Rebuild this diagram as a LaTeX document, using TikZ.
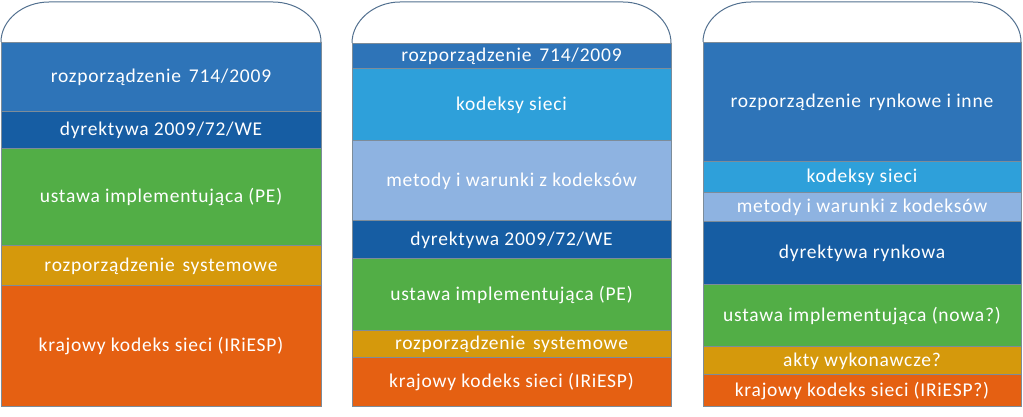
\documentclass[tikz,border=0pt]{standalone}
\usepackage{fontspec}
\setmainfont[LetterSpace=4]{Carlito}
\usetikzlibrary{positioning}
\definecolor{rozpblue}{HTML}{2E74B8}
\definecolor{dyrblue}{HTML}{165DA3}
\definecolor{kodblue}{HTML}{2EA0DA}
\definecolor{metblue}{HTML}{8EB3E1}
\definecolor{ustgreen}{HTML}{52AE46}
\definecolor{rozpgold}{HTML}{D5990C}
\definecolor{krajorange}{HTML}{E56012}
\definecolor{capgray}{HTML}{52708F}
\definecolor{edgegray}{HTML}{7D8C99}
\newcommand{\wsp}{\hskip 0.4em}
\tikzset{band/.style={rectangle,draw=edgegray,line width=0.5pt,text=white,
    font=\fontsize{19.5}{22}\selectfont,inner sep=0pt,outer sep=0pt,
    text height=1.26em,text depth=0pt,minimum height=#1,anchor=north},
  capline/.style={draw=capgray,line width=1pt}}
\begin{document}
\begin{tikzpicture}[x=1pt,y=-1pt,node distance=0pt]
\useasboundingbox (0,0) rectangle (1023,417);
% kolumna 1
\begin{scope}[every node/.append style={minimum width=320pt}]
\node[band=69pt,fill=rozpblue] (a1) at (161,42) {rozporządzenie\wsp 714/2009};
\node[band=37pt,fill=dyrblue,below=of a1] (a2) {dyrektywa 2009/72/WE};
\node[band=97pt,fill=ustgreen,below=of a2] (a3) {ustawa implementująca (PE)};
\node[band=40pt,fill=rozpgold,below=of a3] (a4) {rozporządzenie\wsp systemowe};
\node[band=121pt,fill=krajorange,below=of a4] (a5) {krajowy kodeks sieci (IRiESP)};
\end{scope}
\draw[capline] (a1.north west) .. controls +(0,-22) and +(-26,0) .. ([xshift=48pt,yshift=40pt]a1.north west)
  -- ([xshift=-48pt,yshift=40pt]a1.north east) .. controls +(26,0) and +(0,-22) .. (a1.north east);
% kolumna 2
\begin{scope}[every node/.append style={minimum width=319pt}]
\node[band=25pt,fill=rozpblue] (b1) at (511.5,43) {rozporządzenie\wsp 714/2009};
\node[band=72pt,fill=kodblue,below=of b1] (b2) {kodeksy sieci};
\node[band=80pt,fill=metblue,below=of b2] (b3) {metody i warunki z kodeksów};
\node[band=38pt,fill=dyrblue,below=of b3] (b4) {dyrektywa 2009/72/WE};
\node[band=72pt,fill=ustgreen,below=of b4] (b5) {ustawa implementująca (PE)};
\node[band=27pt,fill=rozpgold,below=of b5] (b6) {rozporządzenie\wsp systemowe};
\node[band=49pt,fill=krajorange,below=of b6] (b7) {krajowy kodeks sieci (IRiESP)};
\end{scope}
\draw[capline] (b1.north west) .. controls +(0,-22) and +(-26,0) .. ([xshift=48pt,yshift=41pt]b1.north west)
  -- ([xshift=-48pt,yshift=41pt]b1.north east) .. controls +(26,0) and +(0,-22) .. (b1.north east);
% kolumna 3
\begin{scope}[every node/.append style={minimum width=318pt}]
\node[band=119pt,fill=rozpblue] (c1) at (862,42) {rozporządzenie\wsp rynkowe i inne};
\node[band=31pt,fill=kodblue,below=of c1] (c2) {kodeksy sieci};
\node[band=29pt,fill=metblue,below=of c2] (c3) {metody i warunki z kodeksów};
\node[band=63pt,fill=dyrblue,below=of c3] (c4) {dyrektywa rynkowa};
\node[band=62pt,fill=ustgreen,below=of c4] (c5) {ustawa implementująca (nowa?)};
\node[band=28pt,fill=rozpgold,below=of c5] (c6) {akty wykonawcze?};
\node[band=32pt,fill=krajorange,below=of c6] (c7) {krajowy kodeks sieci (IRiESP?)};
\end{scope}
\draw[capline] (c1.north west) .. controls +(0,-22) and +(-26,0) .. ([xshift=48pt,yshift=40pt]c1.north west)
  -- ([xshift=-48pt,yshift=40pt]c1.north east) .. controls +(26,0) and +(0,-22) .. (c1.north east);
\end{tikzpicture}
\end{document}
